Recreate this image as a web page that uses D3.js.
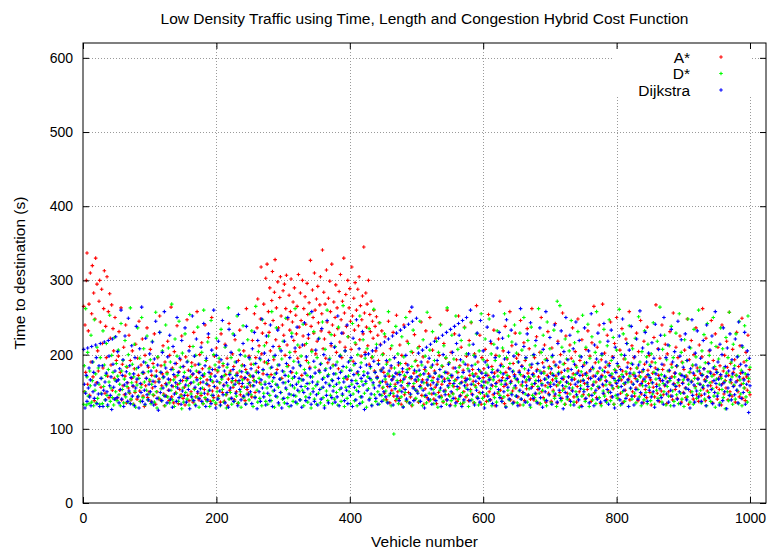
<!DOCTYPE html>
<html>
<head>
<meta charset="utf-8">
<script src="https://cdn.jsdelivr.net/npm/d3@7"></script>
<style>
  html, body { margin: 0; padding: 0; background: #fff; }
  svg { display: block; }
  text { font-family: "Liberation Sans", Arial, Helvetica, sans-serif; fill: #000; }
</style>
</head>
<body>
<svg id="chart" width="768" height="552"></svg>
<script>
// Travel time (s) per vehicle, vehicles 1..1000, one array per routing algorithm.
const aStar = [
265,150,240,176,300,337,160,232,268,145,310,190,255,320,170,283,138,248,330,162,295,205,178,272,300,
244,156,288,215,182,262,313,148,238,196,305,171,258,142,282,222,186,267,152,235,205,168,250,140,192,
165,142,198,231,152,176,263,139,187,158,210,146,171,240,135,183,162,155,226,148,192,139,168,205,157,
133,181,149,214,163,140,195,172,245,151,137,186,160,221,144,175,130,199,158,168,236,142,183,150,164,
207,137,172,155,188,145,228,163,133,178,150,196,141,167,252,139,185,158,174,212,147,131,190,161,144,
176,218,152,138,199,166,264,143,182,157,135,204,170,149,188,239,160,134,177,153,193,146,225,165,141,
184,156,132,197,168,247,145,179,138,211,161,150,189,173,136,230,154,186,143,169,258,148,176,139,200,
162,145,216,181,134,171,153,240,140,192,166,147,223,158,183,137,174,250,151,163,142,198,180,133,209,
155,177,144,190,162,136,228,170,149,185,159,137,214,173,146,195,131,167,242,152,178,141,163,201,156,
184,139,220,165,150,175,134,192,161,233,146,170,157,186,143,205,168,138,180,262,153,166,148,198,172,
158,187,143,219,170,165,255,149,196,178,236,275,183,212,162,248,318,201,229,174,268,190,242,303,216,
322,188,258,230,290,205,173,273,312,246,193,284,328,220,263,180,298,236,211,277,305,252,168,240,286,
226,295,199,262,307,213,248,185,280,233,258,302,176,244,271,219,290,204,253,228,265,195,308,237,210,
283,246,172,300,225,262,213,278,241,192,296,254,222,270,183,327,238,206,287,250,229,310,260,201,275,
218,292,243,179,267,305,232,255,341,208,284,221,268,195,314,244,189,276,230,299,258,212,322,240,186,
271,226,250,294,203,263,235,181,285,217,308,247,196,272,229,330,256,210,281,238,167,300,224,263,289,
245,207,318,252,191,276,233,297,214,260,175,288,239,305,220,266,198,247,279,228,345,256,203,283,237,
268,212,300,187,254,231,272,196,245,222,260,178,238,205,251,170,226,192,243,163,214,180,232,155,201,
176,148,224,163,139,190,157,245,171,135,208,182,152,167,230,144,196,160,138,253,174,150,186,141,213,
165,133,199,177,155,240,146,170,188,137,218,161,149,181,258,143,168,131,203,157,175,227,140,192,164,
151,185,136,211,172,158,244,145,166,197,133,180,154,232,162,142,190,174,138,250,159,183,147,206,169,
140,178,156,222,134,187,163,149,199,171,241,144,160,184,136,215,167,152,195,139,260,175,146,189,161,
132,203,170,148,182,157,228,141,166,193,137,176,252,155,185,145,210,163,134,179,150,237,168,143,198,
159,186,138,219,172,153,243,147,180,164,135,201,158,174,266,142,190,161,149,226,177,133,196,156,169,
181,144,207,163,137,192,172,254,150,167,139,215,184,158,146,233,175,131,199,162,178,148,221,165,272,
152,187,141,169,205,157,134,238,176,160,194,145,182,170,258,139,164,212,151,188,136,173,229,155,195,
166,143,200,178,132,246,159,185,149,171,216,138,192,163,154,235,175,146,208,168,140,183,262,157,174,
139,196,161,147,224,180,153,170,134,203,165,250,150,189,142,177,213,158,136,194,172,231,148,184,160,
175,137,209,166,152,190,144,242,171,158,135,218,183,162,149,200,176,141,256,167,154,188,133,225,163,
148,181,170,139,213,160,195,152,236,174,143,167,204,185,136,157,248,178,150,192,164,131,220,172,146,
186,161,140,207,175,153,232,168,145,198,180,137,216,159,171,265,149,189,163,142,210,177,155,240,166,
134,193,172,268,158,147,202,183,165,139,226,176,151,188,160,244,143,170,197,154,133,215,179,162,250,
157,141,184,170,206,148,166,235,178,136,194,160,152,221,174,145,189,167,258,139,181,163,212,150,173,
196,144,168,155,229,182,138,204,171,159,246,147,177,164,135,218,187,153,170,142,237,179,161,199,149,
166,132,190,175,156,223,143,182,267,160,148,208,172,137,195,165,151,240,180,146,186,158,214,169,134,
201,163,150,178,231,144,187,170,139,256,161,175,153,210,184,141,196,166,158,225,173,136,190,162,149,
180,206,155,142,171,248,167,133,193,176,150,219,164,185,140,200,172,157,236,146,182,168,137,213,160,
174,145,197,262,154,181,166,138,222,170,151,189,143,205,177,158,246,163,135,192,173,149,228,180,156,
140,210,168,153,185,171,132,240,161,178,147,199,165,155,218,183,139,172,257,150,188,162,144,207,176,
158,193,136,172,230,165,150,184,143,212,175,160,249,141,168,190,155,138,203,170,152,226,164,180,146
];

const dStar = [
133,185,150,262,132,170,203,144,134,178,158,226,136,165,190,131,247,152,174,135,210,141,182,160,133,
196,148,168,134,232,157,186,139,172,215,145,130,180,163,253,137,155,199,142,176,132,223,166,150,188,
138,171,206,146,160,131,242,178,153,192,135,167,219,143,184,157,136,200,149,174,263,140,162,187,133,
170,214,151,129,181,159,236,144,168,195,137,156,250,175,142,208,163,132,189,152,225,139,177,147,166,
193,134,160,218,146,183,136,171,257,150,128,197,164,141,230,176,154,138,205,169,145,186,131,240,158,
174,143,209,162,135,190,152,268,139,180,166,130,221,157,148,198,172,137,245,161,183,144,127,202,155,
136,176,228,149,165,140,191,158,132,254,170,147,184,139,211,163,153,133,199,178,143,237,160,129,187,
168,148,203,155,134,260,174,142,192,161,137,217,151,181,130,170,246,145,164,138,200,157,186,135,222,
150,179,141,195,162,131,234,167,153,188,136,172,210,146,128,183,158,263,140,175,149,196,133,165,228,
159,137,190,172,144,252,163,135,206,178,150,129,185,166,239,142,156,198,134,176,147,220,161,139,194,
171,146,232,158,130,187,165,143,265,176,152,136,204,168,141,193,160,131,247,179,148,212,163,137,189,
155,133,225,170,145,182,138,258,164,151,197,129,174,160,236,143,186,156,132,208,167,149,194,140,218,
177,135,162,249,153,184,142,171,130,203,159,146,229,168,137,191,155,262,144,175,134,213,163,150,186,
139,198,166,152,241,131,180,157,143,215,172,136,189,161,255,147,128,204,170,154,231,140,183,158,133,
196,163,148,222,176,135,188,155,244,142,169,131,207,181,151,260,138,173,160,195,145,227,166,134,185,
157,140,211,174,149,190,132,237,162,153,199,137,178,145,266,168,130,205,156,183,141,224,171,150,192,
134,179,160,242,147,186,138,216,165,152,131,200,173,157,252,143,189,164,136,220,177,148,195,161,129,
208,170,154,235,141,182,166,132,197,159,261,146,176,137,214,168,150,188,133,243,162,179,145,200,156,
139,228,167,151,187,136,174,258,145,193,160,131,212,171,148,93,182,157,238,140,165,201,134,176,152,
188,143,224,163,130,197,172,149,250,138,180,158,215,135,169,146,204,184,132,233,161,154,191,141,177,
150,209,166,137,245,173,155,186,131,220,162,144,198,178,135,257,159,170,148,206,139,183,165,231,153,
134,192,175,146,218,160,129,203,171,152,240,142,185,164,137,212,176,150,196,133,263,168,156,189,144,
172,138,226,158,147,194,165,131,252,177,153,207,140,183,161,134,219,170,149,190,136,236,163,155,201,
145,181,130,213,167,151,244,139,174,160,199,135,187,156,228,143,170,132,205,178,148,255,164,141,193,
158,133,221,175,147,186,162,138,248,169,154,201,131,180,166,214,142,192,157,136,232,171,150,198,145,
176,160,137,209,184,143,255,165,130,196,172,152,225,139,188,161,148,217,134,178,155,240,168,144,202,
135,190,163,151,229,173,140,206,158,132,250,181,147,195,166,136,219,170,154,186,129,237,160,145,199,
171,142,212,165,137,188,157,262,148,178,134,203,161,152,226,175,139,193,167,131,244,156,182,146,208,
162,135,197,174,150,233,141,185,168,130,272,159,176,145,266,163,138,210,152,187,170,133,221,157,194,
140,178,161,205,147,132,246,169,155,191,136,216,173,150,183,143,231,164,129,198,158,177,144,253,166,
153,189,137,210,172,160,241,146,130,195,168,154,224,139,181,163,148,203,134,258,175,157,190,142,217,
167,131,199,179,151,234,144,170,159,136,212,186,149,247,162,138,192,174,155,223,133,180,165,145,206,
141,185,156,261,168,132,200,173,150,228,161,137,194,177,146,215,163,130,239,171,154,188,140,208,160,
175,148,222,135,182,166,153,251,143,190,170,131,204,158,178,139,232,164,149,197,134,214,172,156,186,
138,201,162,147,243,176,133,189,167,152,218,141,180,159,264,145,173,136,207,161,150,226,169,132,193,
157,178,144,212,165,131,238,183,151,196,137,170,158,229,146,185,162,134,255,174,148,203,140,189,166,
130,220,171,154,192,143,248,160,176,136,209,164,150,186,133,234,168,155,197,141,178,161,260,147,183,
152,135,205,173,158,227,140,189,165,131,242,177,149,199,162,137,216,171,154,250,144,184,129,211,167,
176,148,194,160,135,236,168,153,208,142,182,164,127,223,175,150,196,138,257,163,146,190,170,133,214,
159,185,140,228,172,152,198,134,245,166,147,179,131,210,161,155,239,174,143,192,136,252,168,149,183
];

const dijkstra = [
207,160,128,148,172,137,209,155,182,143,166,131,211,190,150,176,141,159,213,196,134,162,147,185,130,
215,168,147,185,130,152,217,163,139,175,150,132,219,198,158,145,170,126,221,187,156,140,178,224,164,
142,204,166,135,181,153,260,140,172,193,130,159,225,147,177,162,137,249,151,185,134,169,212,144,158,
174,131,196,155,238,167,143,183,128,208,161,149,264,137,176,190,152,133,222,168,146,185,139,160,201,
150,178,136,217,164,132,194,157,245,171,141,186,125,163,230,149,176,138,203,155,170,258,144,182,160,
135,197,167,152,226,140,180,158,129,211,173,147,188,162,137,250,155,176,142,195,165,133,219,151,184,
170,145,236,159,136,190,168,153,205,127,178,162,143,252,174,138,198,156,131,221,166,150,187,141,176,
154,210,137,172,163,242,148,185,130,195,160,139,228,176,152,166,134,206,180,145,260,157,171,128,199,
164,140,218,183,151,132,193,170,246,146,158,178,135,212,162,149,187,129,234,173,155,203,141,168,180,
137,226,160,148,190,172,131,254,165,153,200,139,177,161,215,144,185,169,133,238,156,175,146,196,162,
150,181,134,208,171,158,230,142,188,163,127,219,176,150,195,137,166,248,155,180,143,202,160,132,225,
173,148,192,161,138,240,157,183,130,211,169,152,199,144,175,159,233,135,186,167,149,205,128,178,162,
141,218,172,155,188,134,250,164,147,196,177,131,224,158,182,145,170,209,136,160,237,152,190,168,139,
185,157,129,213,166,149,243,175,138,197,161,154,227,142,181,170,133,258,163,150,191,137,175,206,146,
160,132,221,178,153,187,140,235,167,156,200,128,179,162,145,246,171,135,193,158,182,215,142,165,151,
174,210,136,186,160,143,252,168,131,198,176,155,229,147,184,163,138,205,170,152,240,134,190,157,179,
145,196,165,130,222,173,156,188,139,247,161,177,150,208,134,183,168,143,231,159,172,126,200,164,186,
152,175,201,139,168,184,147,131,205,162,191,155,176,141,209,169,133,187,158,146,213,178,137,164,182,
150,217,171,143,192,160,135,221,178,157,148,185,166,225,132,170,196,154,175,229,144,162,189,138,173,
233,158,150,181,129,167,237,153,199,140,176,186,241,161,135,147,170,264,245,155,138,179,166,152,249,
170,148,202,179,157,137,190,163,206,152,174,128,183,145,210,166,159,140,195,171,214,154,133,186,162,
148,218,175,138,159,192,167,222,143,180,155,130,170,226,200,151,164,146,176,230,139,158,187,165,131,
234,150,172,203,141,161,238,182,135,215,157,169,242,226,144,193,162,130,246,176,139,158,187,165,250,
167,153,201,178,138,260,160,185,146,214,171,132,197,164,152,229,141,180,168,136,246,158,175,149,205,
163,128,190,172,155,237,144,183,166,139,218,159,176,134,252,170,148,196,161,131,209,179,153,230,142,
185,165,137,222,174,150,194,160,129,247,168,156,203,140,181,163,233,146,177,135,198,171,158,214,144,
167,131,190,176,152,262,140,184,163,149,211,170,136,196,158,228,145,179,166,132,243,155,187,173,141,
200,161,148,219,178,135,188,165,154,236,142,175,159,129,207,183,167,150,258,138,192,162,170,146,223,
157,181,133,199,172,160,240,147,186,164,136,215,174,152,190,141,232,168,158,127,204,179,149,250,163,
143,193,170,155,226,137,180,166,151,208,132,187,160,244,146,175,163,139,219,172,154,197,130,184,165,
150,236,174,141,189,162,157,205,135,178,168,255,145,183,159,131,213,171,152,194,140,229,167,156,182,
136,170,201,160,148,242,177,138,190,164,153,218,133,185,172,149,233,158,143,196,168,128,210,176,161,
188,146,165,225,139,180,157,134,248,170,152,199,162,141,215,183,166,130,206,175,155,238,144,187,160,
132,197,171,153,221,164,140,186,176,259,149,161,135,209,180,167,145,230,158,190,137,173,202,152,169,
184,143,216,162,150,195,129,241,174,157,180,138,207,168,154,226,142,187,165,133,250,171,159,196,147,
163,213,136,179,168,152,234,144,190,160,131,204,175,157,185,140,245,166,150,198,134,220,172,161,183,
148,170,228,155,139,192,166,153,210,128,181,163,247,145,175,159,136,202,186,151,232,167,143,178,160,
195,137,172,156,219,181,147,164,131,240,170,158,188,142,206,175,153,225,134,182,165,149,258,161,176,
144,190,167,132,214,173,159,200,138,236,162,150,184,171,127,209,155,178,145,228,166,139,193,174,157,
181,146,221,163,152,197,135,244,170,158,187,141,212,176,149,166,230,133,185,160,205,173,122,195,158
];

const seriesNames = ["A*", "D*", "Dijkstra"];
const seriesColors = ["#ff0000", "#00ff00", "#0000ff"];
const seriesValues = [aStar, dStar, dijkstra];

const xTicks = [0, 200, 400, 600, 800, 1000];
const yTicks = [0, 100, 200, 300, 400, 500, 600];

const titleText = "Low Density Traffic using Time, Length and Congestion Hybrid Cost Function";
const xLabel = "Vehicle number";
const yLabel = "Time to destination (s)";

// Plot frame
const frame = { left: 83, right: 766, top: 43, bottom: 503 };
const svg = d3.select("#chart");

const x = d3.scaleLinear().domain([0, 1024]).range([frame.left, frame.right]);
const y = d3.scaleLinear().domain([0, 620]).range([frame.bottom, frame.top]);

// Dotted grid
const grid = svg.append("g").attr("stroke", "#9a9a9a").attr("stroke-width", 1)
  .attr("stroke-dasharray", "1,2").attr("shape-rendering", "crispEdges");
grid.selectAll("line.gx").data(xTicks.filter(d => d > 0)).join("line")
  .attr("x1", d => Math.round(x(d)) + 0.5).attr("x2", d => Math.round(x(d)) + 0.5)
  .attr("y1", frame.bottom).attr("y2", frame.top);
grid.selectAll("line.gy").data(yTicks.filter(d => d > 0)).join("line")
  .attr("y1", d => Math.round(y(d)) + 0.5).attr("y2", d => Math.round(y(d)) + 0.5)
  .attr("x1", frame.left).attr("x2", frame.right);

// Key area is kept clear of grid lines
svg.append("rect").attr("x", 613).attr("y", 48).attr("width", 139).attr("height", 49).attr("fill", "#fff");

// Points, drawn as small crosses
function cross(px, py) {
  const r = 1.8;
  return `M${px - r},${py}H${px + r}M${px},${py - r}V${py + r}`;
}
seriesValues.forEach((vals, s) => {
  let d = "";
  vals.forEach((v, i) => { d += cross(x(i + 1), y(v)); });
  svg.append("path").attr("d", d).attr("fill", "none")
    .attr("stroke", seriesColors[s]).attr("stroke-width", 1.1);
});

// Axes with inward ticks, mirrored on top and right
const tickFont = "14px";
const labelFont = "15.5px";
const fmt = d3.format("d");
const axB = svg.append("g").attr("transform", `translate(0,${frame.bottom})`)
  .call(d3.axisBottom(x).tickValues(xTicks).tickFormat(fmt).tickSizeInner(-6).tickSizeOuter(0).tickPadding(10));
const axL = svg.append("g").attr("transform", `translate(${frame.left},0)`)
  .call(d3.axisLeft(y).tickValues(yTicks).tickFormat(fmt).tickSizeInner(-6).tickSizeOuter(0).tickPadding(10));
const axT = svg.append("g").attr("transform", `translate(0,${frame.top})`)
  .call(d3.axisTop(x).tickValues(xTicks).tickSizeInner(-6).tickSizeOuter(0).tickFormat(""));
const axR = svg.append("g").attr("transform", `translate(${frame.right},0)`)
  .call(d3.axisRight(y).tickValues(yTicks).tickSizeInner(-6).tickSizeOuter(0).tickFormat(""));
[axB, axL, axT, axR].forEach(g => {
  g.select(".domain").remove();
  g.selectAll("line").attr("stroke", "#000");
  g.selectAll("text").style("font-size", tickFont).style("font-family", "Liberation Sans, Arial, sans-serif");
});

// Border
svg.append("rect").attr("x", frame.left).attr("y", frame.top)
  .attr("width", frame.right - frame.left).attr("height", frame.bottom - frame.top)
  .attr("fill", "none").attr("stroke", "#000").attr("stroke-width", 1);

// Titles
svg.append("text").attr("x", (frame.left + frame.right) / 2).attr("y", 24).attr("text-anchor", "middle")
  .style("font-size", "15.5px").text(titleText);
svg.append("text").attr("x", (frame.left + frame.right) / 2).attr("y", 547).attr("text-anchor", "middle")
  .style("font-size", labelFont).text(xLabel);
svg.append("text").attr("transform", `translate(25,${(frame.top + frame.bottom) / 2}) rotate(-90)`)
  .attr("text-anchor", "middle").style("font-size", labelFont).text(yLabel);

// Key
const key = svg.append("g");
seriesNames.forEach((name, s) => {
  const ky = 57 + s * 16.5;
  key.append("text").attr("x", 690).attr("y", ky + 5.5).attr("text-anchor", "end")
    .style("font-size", labelFont).text(name);
  key.append("path").attr("d", cross(721, ky)).attr("stroke", seriesColors[s])
    .attr("stroke-width", 1.1).attr("fill", "none");
});
</script>
</body>
</html>
